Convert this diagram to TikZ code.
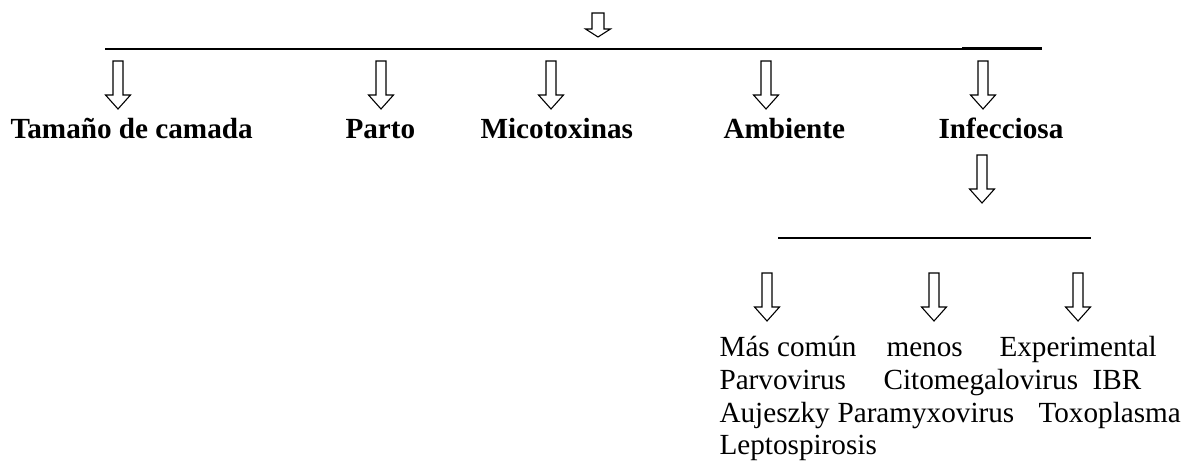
\documentclass[tikz,border=0pt]{standalone}
\usepackage{fontspec}
\setmainfont{Liberation Serif}
\usepackage{tikz}
\usetikzlibrary{arrows.meta}

\begin{document}
\begin{tikzpicture}[x=0.1445mm, y=-0.1445mm, line width=0.45pt,
    cat/.style = {anchor=base west, inner sep=0, font=\fontsize{12}{14}\selectfont\bfseries},
    item/.style = {anchor=base west, inner sep=0, font=\fontsize{12}{14}\selectfont},
    bar/.style = {line width=0.65pt},
    blockdown/.pic = {\draw (-5,0) -- (5,0) -- (5,34) -- (12.5,34) -- (0,48) -- (-12.5,34) -- (-5,34) -- cycle;},
    smalldown/.pic = {\draw (-6,0) -- (6,0) -- (6,16) -- (12.5,16) -- (0,24) -- (-12.5,16) -- (-6,16) -- cycle;}]
    \useasboundingbox (0,0) rectangle (1183,462);

    % Bars
    \coordinate (barL) at (105,49);
    \coordinate (barR) at (1042,49);
    \coordinate (barT) at (962,48.2);
    \coordinate (subL) at (778,238);
    \coordinate (subR) at (1091,238);
    \draw[bar] (barL) -- (barR);
    \draw[bar] (barT) -- (barR |- barT);
    \draw[bar] (subL) -- (subR);

    % Arrows
    \pic at (598,13) {smalldown};
    \foreach \x in {118, 381, 551, 766, 983}
        \pic at (\x,61) {blockdown};
    \pic at (982,155) {blockdown};
    \foreach \x in {767, 934, 1078}
        \pic at (\x,273) {blockdown};

    % Nodes
    \node[cat] (tamano) at (10,139) {Tamaño de camada};
    \node[cat] (parto) at (345,139) {Parto};
    \node[cat] (mico) at (480,139) {Micotoxinas};
    \node[cat] (amb) at (723,139) {Ambiente};
    \node[cat] (inf) at (938,139) {Infecciosa};

    \node[item] (comun) at (719,357) {Más común};
    \node[item] (menos) at (886,357) {menos};
    \node[item] (exper) at (999,357) {Experimental};
    \node[item] (parvo) at (719,390) {Parvovirus};
    \node[item] (cito) at (883,390) {Citomegalovirus};
    \node[item] (ibr) at (1092,390) {IBR};
    \node[item] (auj) at (719,423) {Aujeszky};
    \node[item] (para) at (837,423) {Paramyxovirus};
    \node[item] (toxo) at (1038,423) {Toxoplasma};
    \node[item] (lepto) at (719,455) {Leptospirosis};
\end{tikzpicture}
\end{document}
